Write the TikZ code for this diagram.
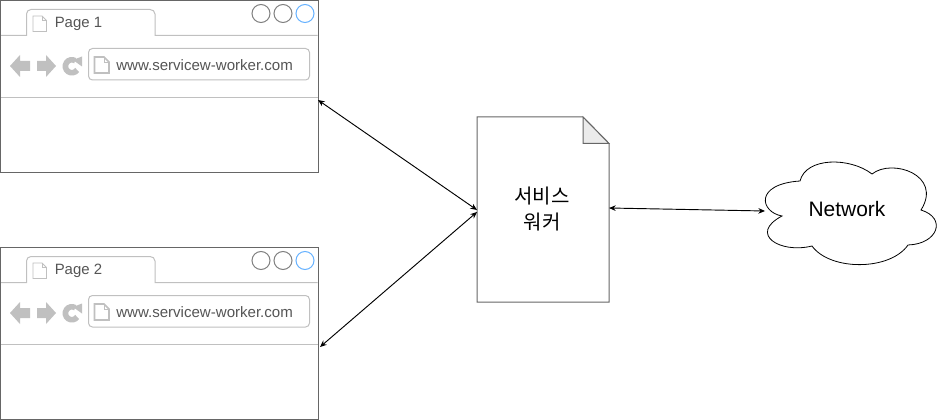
\documentclass[tikz,border=0pt]{standalone}
\usepackage{fontspec}
\usetikzlibrary{arrows.meta}
\setmainfont{Liberation Sans}
\newfontfamily\krfont{Noto Sans CJK KR}
\definecolor{winline}{HTML}{666666}
\definecolor{barline}{HTML}{C0C0C0}
\definecolor{btnline}{HTML}{808080}
\definecolor{btnblue}{HTML}{66B2FF}
\definecolor{pagetext}{HTML}{555555}
\tikzset{
	window/.style={draw=winline, fill=white, rectangle, inner sep=0pt, minimum width=238.5pt, minimum height=129pt, line width=0.75pt},
	bar/.style={draw=barline, line width=0.75pt},
	winbtn/.style={draw=btnline, fill=white, circle, inner sep=0pt, minimum size=13.5pt, line width=0.75pt},
	pagetitle/.style={text=pagetext, font=\fontsize{11.2}{13}\selectfont, inner sep=0pt},
	urltext/.style={text=pagetext, font=\fontsize{11.3}{13}\selectfont, inner sep=0pt},
	link/.style={black, line width=0.7pt, {Stealth[length=5pt, width=4.2pt]}-{Stealth[length=5pt, width=4.2pt]}}
}
\begin{document}
\begin{tikzpicture}[x=0.75pt, y=-0.75pt]
	\useasboundingbox (0,0) rectangle (945,420);

	% browser windows
	\foreach \n/\y in {1/0, 2/247} {
		\node[window] (page\n) at (159.5,86.5+\y){};
		\draw[bar] (1,35.5+\y) -- (26.5,35.5+\y) -- (26.5,14+\y) to[out=90, in=180] (31,9.5+\y) -- (150,9.5+\y) to[out=0, in=90] (155,14+\y) -- (155,35.5+\y) -- (317.5,35.5+\y);
		\draw[bar] (1,97.5+\y) -- (317.5,97.5+\y);
		\draw[bar, rounded corners=3pt, fill=white] (88.5,48.5+\y) rectangle (309.5,80+\y);
		\node[winbtn] (btna\n) at (261,13.5+\y){};
		\node[winbtn] (btnb\n) at (283,13.5+\y){};
		\node[winbtn, draw=btnblue] (btnc\n) at (305,13.5+\y){};
		\node[pagetitle, anchor=west] (title\n) at (54.5,24+\y){Page \n};
		\node[urltext, anchor=west] (url\n) at (116,65+\y){www.servicew-worker.com};
		% small page icons
		\draw[bar, line width=0.6pt] (33,16+\y) -- (42,16+\y) -- (46.5,20.5+\y) -- (46.5,31.5+\y) -- (33,31.5+\y) -- cycle;
		\draw[bar, line width=0.6pt] (42,16+\y) -- (42,20.5+\y) -- (46.5,20.5+\y);
		\draw[bar, line width=1.2pt] (94.5,57+\y) -- (104,57+\y) -- (109,62+\y) -- (109,73+\y) -- (94.5,73+\y) -- cycle;
		\draw[bar, line width=0.6pt] (104,57+\y) -- (104,62+\y) -- (109,62+\y);
		% back, forward, reload
		\fill[barline] (10,66+\y) -- (20,55+\y) -- (20,61+\y) -- (30,61+\y) -- (30,71+\y) -- (20,71+\y) -- (20,77+\y) -- cycle;
		\fill[barline] (56,66+\y) -- (46,55+\y) -- (46,61+\y) -- (37,61+\y) -- (37,71+\y) -- (46,71+\y) -- (46,77+\y) -- cycle;
		\draw[barline, line width=4.2pt] (77.2,70+\y) arc[start angle=35, end angle=300, radius=6.5];
		\fill[barline] (73,60+\y) -- (82,56.5+\y) -- (82,66.5+\y) -- cycle;
	}

	% service worker file
	\node[inner sep=0pt, minimum width=99pt, minimum height=138.75pt] (worker) at (543,209.5){};
	\draw[winline, line width=0.75pt, fill=white] (477,117) -- (583,117) -- (609,143.5) -- (609,302) -- (477,302) -- cycle;
	\draw[winline, line width=0.75pt, fill=black!8] (583,117) -- (609,143.5) -- (583,143.5) -- cycle;
	\node[align=center, font=\krfont\fontsize{15}{20}\selectfont, inner sep=0pt] (workertext) at (542,209){서비스\\워커};

	% network cloud
	\draw[black, line width=0.6pt, fill=white] (782,216)
		.. controls (760,212) and (754,184) .. (800,181)
		.. controls (806,157) and (850,157) .. (872,174)
		.. controls (892,158) and (943,175) .. (921,210)
		.. controls (947,218) and (938,244) .. (908,245)
		.. controls (890,271) and (830,271) .. (812,246)
		.. controls (780,254) and (748,234) .. (782,216) -- cycle;
	\node[font=\fontsize{15.7}{18}\selectfont, inner sep=0pt] (network) at (847,209){Network};

	% arrows
	\coordinate (p1) at (318,100);
	\coordinate (p2) at (320,347);
	\coordinate (w1) at (477,210);
	\coordinate (w2) at (477,212);
	\coordinate (w3) at (609,208);
	\coordinate (n1) at (765,211);
	\draw[link] (p1) -- (w1);
	\draw[link] (p2) -- (w2);
	\draw[link] (w3) -- (n1);
\end{tikzpicture}
\end{document}
